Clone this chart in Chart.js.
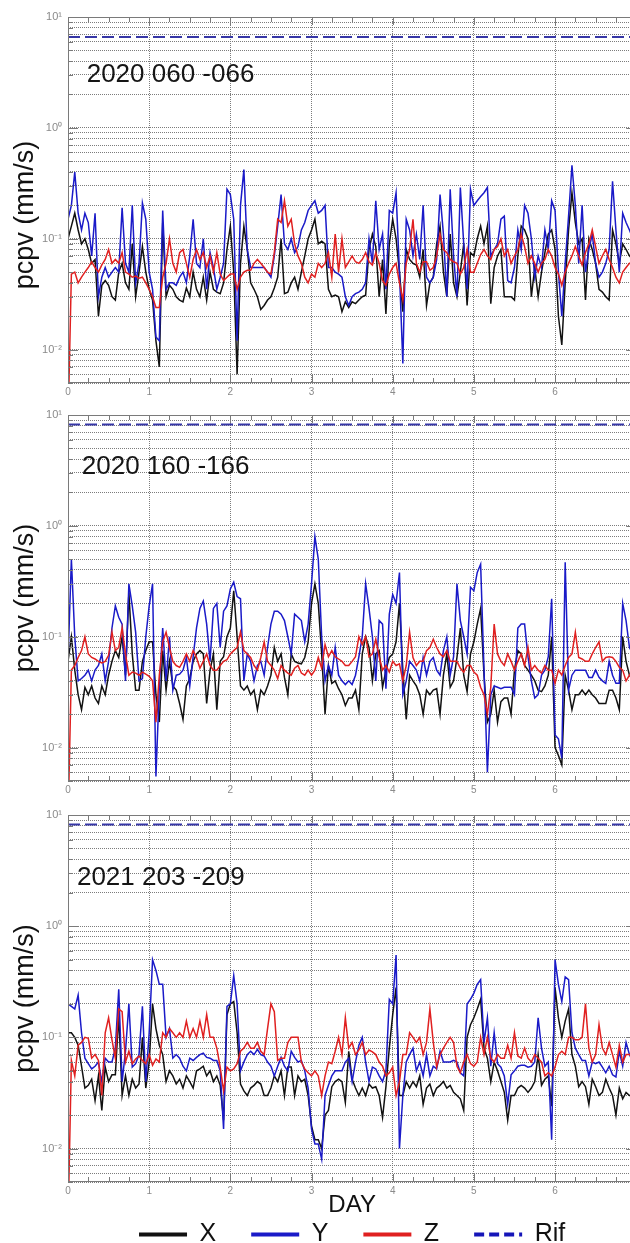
<!DOCTYPE html>
<html>
<head>
<meta charset="utf-8">
<title>pcpv</title>
<script src="https://cdn.jsdelivr.net/npm/chart.js@4.4.1/dist/chart.umd.min.js"></script>
<style>
  html, body { margin: 0; padding: 0; background: #fff; overflow: hidden; width: 630px; height: 1243px; }
  canvas { position: absolute; left: 0; }
</style>
</head>
<body>
<canvas id="c1" width="642" height="400" style="top:0px"></canvas>
<canvas id="c2" width="642" height="400" style="top:398px"></canvas>
<canvas id="c3" width="642" height="492" style="top:798px"></canvas>
<script>
// hourly samples, one row per day (mm/s)
const P1_X = [
  0.1,0.13,0.17,0.12,0.09,0.1,0.08,0.06,0.065,0.02,0.038,0.042,0.038,0.03,0.028,0.05,0.06,0.04,0.035,0.09,0.03,0.05,0.085,0.05,
  0.035,0.028,0.012,0.007,0.14,0.03,0.038,0.035,0.03,0.028,0.027,0.036,0.03,0.05,0.035,0.03,0.045,0.028,0.05,0.035,0.033,0.032,0.04,0.08,
  0.13,0.05,0.006,0.06,0.13,0.08,0.04,0.035,0.03,0.023,0.025,0.028,0.03,0.036,0.045,0.1,0.032,0.033,0.04,0.045,0.035,0.05,0.07,0.1,
  0.12,0.15,0.09,0.095,0.09,0.035,0.03,0.031,0.03,0.022,0.027,0.024,0.027,0.026,0.028,0.03,0.031,0.08,0.11,0.085,0.03,0.065,0.021,0.09,
  0.15,0.1,0.05,0.022,0.08,0.065,0.06,0.058,0.045,0.08,0.025,0.04,0.045,0.09,0.13,0.05,0.03,0.11,0.04,0.03,0.05,0.09,0.025,0.075,
  0.07,0.1,0.13,0.09,0.13,0.026,0.055,0.07,0.08,0.03,0.03,0.03,0.028,0.07,0.13,0.12,0.1,0.03,0.055,0.03,0.05,0.075,0.11,0.12,
  0.08,0.02,0.011,0.04,0.12,0.26,0.14,0.09,0.1,0.028,0.1,0.08,0.06,0.035,0.033,0.03,0.028,0.12,0.09,0.06,0.09,0.08,0.07,0.065,
  0.06
];
const P1_Y = [
  0.15,0.2,0.4,0.17,0.12,0.17,0.14,0.07,0.17,0.03,0.045,0.055,0.045,0.05,0.055,0.05,0.19,0.06,0.05,0.2,0.04,0.06,0.21,0.15,
  0.05,0.035,0.013,0.012,0.18,0.035,0.04,0.04,0.038,0.045,0.05,0.04,0.07,0.15,0.06,0.055,0.1,0.035,0.075,0.055,0.035,0.045,0.06,0.28,
  0.25,0.15,0.012,0.2,0.42,0.08,0.055,0.055,0.055,0.055,0.055,0.05,0.045,0.07,0.13,0.25,0.09,0.08,0.1,0.075,0.085,0.12,0.14,0.18,
  0.2,0.22,0.17,0.18,0.2,0.055,0.055,0.05,0.048,0.045,0.03,0.025,0.03,0.032,0.033,0.035,0.04,0.1,0.06,0.22,0.08,0.11,0.035,0.18,
  0.17,0.26,0.05,0.0075,0.15,0.12,0.07,0.11,0.065,0.2,0.045,0.04,0.045,0.065,0.25,0.11,0.03,0.28,0.07,0.03,0.29,0.09,0.035,0.28,
  0.2,0.22,0.24,0.26,0.29,0.07,0.08,0.09,0.15,0.16,0.042,0.04,0.055,0.12,0.08,0.2,0.17,0.1,0.045,0.07,0.055,0.12,0.08,0.22,
  0.18,0.05,0.02,0.06,0.16,0.46,0.2,0.06,0.2,0.05,0.08,0.11,0.06,0.045,0.05,0.06,0.08,0.33,0.12,0.05,0.17,0.14,0.12,0.1,
  0.09
];
const P1_Z = [
  0.002,0.048,0.05,0.04,0.045,0.05,0.055,0.062,0.055,0.05,0.058,0.065,0.08,0.06,0.065,0.06,0.075,0.05,0.048,0.045,0.046,0.044,0.045,0.04,
  0.035,0.03,0.024,0.024,0.045,0.06,0.1,0.06,0.05,0.075,0.08,0.06,0.045,0.065,0.08,0.065,0.075,0.055,0.07,0.05,0.075,0.048,0.042,0.045,
  0.048,0.048,0.035,0.045,0.05,0.052,0.052,0.06,0.065,0.06,0.055,0.05,0.048,0.075,0.15,0.14,0.22,0.13,0.15,0.09,0.07,0.06,0.045,0.04,
  0.048,0.045,0.06,0.055,0.06,0.075,0.045,0.11,0.05,0.1,0.055,0.062,0.07,0.062,0.06,0.065,0.075,0.062,0.058,0.075,0.06,0.042,0.038,0.048,
  0.055,0.06,0.04,0.028,0.06,0.08,0.15,0.06,0.05,0.062,0.062,0.052,0.055,0.07,0.11,0.08,0.075,0.065,0.062,0.06,0.048,0.055,0.08,0.05,
  0.05,0.06,0.072,0.08,0.07,0.065,0.08,0.085,0.1,0.07,0.08,0.06,0.07,0.08,0.11,0.085,0.06,0.07,0.06,0.05,0.06,0.065,0.08,0.07,
  0.055,0.048,0.038,0.05,0.06,0.07,0.085,0.07,0.058,0.075,0.09,0.12,0.085,0.06,0.07,0.08,0.065,0.055,0.045,0.04,0.05,0.055,0.06,0.06,
  0.06
];

const P2_X = [
  0.06,0.1,0.05,0.03,0.022,0.035,0.03,0.036,0.028,0.025,0.036,0.03,0.045,0.06,0.075,0.065,0.1,0.045,0.25,0.07,0.033,0.033,0.06,0.075,
  0.09,0.09,0.03,0.017,0.075,0.033,0.06,0.036,0.033,0.025,0.018,0.036,0.042,0.06,0.07,0.075,0.07,0.025,0.05,0.07,0.022,0.06,0.066,0.1,
  0.12,0.26,0.1,0.036,0.033,0.036,0.03,0.033,0.022,0.033,0.03,0.036,0.045,0.08,0.06,0.07,0.043,0.03,0.07,0.06,0.058,0.057,0.065,0.09,
  0.2,0.3,0.2,0.07,0.02,0.055,0.038,0.04,0.034,0.03,0.024,0.028,0.028,0.033,0.022,0.07,0.1,0.08,0.04,0.07,0.075,0.035,0.05,0.065,
  0.07,0.09,0.2,0.05,0.018,0.045,0.04,0.036,0.03,0.02,0.033,0.03,0.033,0.034,0.02,0.045,0.07,0.035,0.04,0.065,0.12,0.045,0.032,0.07,
  0.09,0.13,0.18,0.045,0.017,0.02,0.033,0.017,0.026,0.028,0.028,0.02,0.05,0.075,0.07,0.055,0.05,0.045,0.04,0.033,0.032,0.036,0.045,0.1,
  0.01,0.0085,0.007,0.045,0.033,0.022,0.03,0.03,0.033,0.03,0.033,0.03,0.028,0.025,0.025,0.025,0.033,0.033,0.028,0.022,0.1,0.06,0.045,0.04,
  0.04
];
const P2_Y = [
  0.06,0.5,0.1,0.04,0.042,0.045,0.05,0.04,0.05,0.055,0.07,0.04,0.06,0.12,0.19,0.15,0.13,0.04,0.3,0.19,0.11,0.04,0.042,0.1,
  0.19,0.3,0.0055,0.035,0.12,0.04,0.1,0.033,0.045,0.046,0.05,0.065,0.036,0.066,0.12,0.18,0.21,0.13,0.06,0.18,0.2,0.08,0.17,0.19,
  0.27,0.31,0.23,0.22,0.04,0.07,0.06,0.04,0.055,0.06,0.045,0.08,0.13,0.17,0.17,0.16,0.14,0.1,0.07,0.16,0.15,0.14,0.09,0.13,
  0.3,0.8,0.5,0.1,0.04,0.055,0.045,0.08,0.045,0.04,0.037,0.04,0.037,0.045,0.066,0.1,0.3,0.18,0.1,0.04,0.14,0.13,0.034,0.16,
  0.24,0.2,0.38,0.03,0.04,0.06,0.055,0.05,0.04,0.065,0.045,0.06,0.065,0.05,0.045,0.075,0.1,0.045,0.066,0.3,0.14,0.1,0.07,0.28,
  0.26,0.38,0.45,0.05,0.006,0.03,0.036,0.035,0.034,0.035,0.035,0.035,0.03,0.12,0.13,0.13,0.066,0.04,0.028,0.03,0.045,0.05,0.066,0.22,
  0.013,0.012,0.008,0.47,0.033,0.045,0.05,0.05,0.05,0.05,0.043,0.043,0.05,0.043,0.04,0.038,0.06,0.045,0.038,0.038,0.2,0.14,0.08,0.07,
  0.06
];
const P2_Z = [
  0.002,0.05,0.055,0.065,0.075,0.1,0.07,0.065,0.063,0.06,0.058,0.06,0.068,0.11,0.075,0.08,0.12,0.07,0.045,0.048,0.047,0.045,0.048,0.046,
  0.044,0.04,0.017,0.045,0.09,0.11,0.08,0.06,0.055,0.053,0.06,0.07,0.06,0.075,0.065,0.052,0.06,0.07,0.055,0.05,0.05,0.055,0.06,0.062,
  0.07,0.075,0.08,0.11,0.075,0.07,0.065,0.055,0.05,0.065,0.09,0.06,0.055,0.05,0.042,0.055,0.05,0.047,0.045,0.052,0.055,0.047,0.045,0.05,
  0.045,0.05,0.065,0.052,0.085,0.066,0.075,0.066,0.063,0.06,0.055,0.055,0.06,0.066,0.1,0.085,0.1,0.066,0.07,0.095,0.066,0.05,0.055,0.048,
  0.06,0.055,0.057,0.04,0.055,0.11,0.065,0.055,0.06,0.06,0.075,0.08,0.095,0.08,0.07,0.066,0.075,0.06,0.06,0.06,0.052,0.048,0.055,0.055,
  0.048,0.045,0.035,0.03,0.02,0.035,0.13,0.07,0.06,0.055,0.07,0.06,0.05,0.06,0.07,0.055,0.08,0.05,0.055,0.05,0.047,0.055,0.05,0.05,
  0.038,0.05,0.045,0.055,0.065,0.07,0.11,0.065,0.063,0.06,0.06,0.07,0.08,0.09,0.06,0.065,0.066,0.065,0.06,0.053,0.05,0.04,0.045,0.05,
  0.05
];

const P3_X = [
  0.11,0.11,0.1,0.085,0.055,0.035,0.037,0.042,0.027,0.045,0.022,0.054,0.04,0.046,0.046,0.16,0.03,0.045,0.03,0.042,0.035,0.038,0.1,0.035,
  0.06,0.2,0.12,0.085,0.07,0.04,0.05,0.045,0.038,0.042,0.035,0.045,0.04,0.035,0.05,0.052,0.055,0.045,0.05,0.04,0.045,0.037,0.018,0.16,
  0.2,0.21,0.11,0.038,0.033,0.03,0.035,0.037,0.04,0.038,0.03,0.03,0.035,0.045,0.04,0.05,0.03,0.054,0.054,0.03,0.045,0.04,0.042,0.03,
  0.016,0.012,0.012,0.01,0.02,0.022,0.036,0.04,0.042,0.04,0.026,0.075,0.042,0.035,0.03,0.035,0.03,0.038,0.035,0.036,0.03,0.019,0.036,0.08,
  0.16,0.28,0.03,0.03,0.04,0.035,0.04,0.036,0.045,0.025,0.035,0.038,0.03,0.035,0.037,0.04,0.035,0.037,0.032,0.03,0.028,0.022,0.1,0.13,
  0.15,0.18,0.22,0.08,0.065,0.04,0.06,0.05,0.04,0.032,0.018,0.03,0.03,0.035,0.037,0.035,0.032,0.035,0.04,0.07,0.037,0.042,0.045,0.024,
  0.28,0.15,0.1,0.14,0.18,0.07,0.055,0.036,0.04,0.036,0.025,0.042,0.036,0.03,0.032,0.042,0.035,0.03,0.02,0.035,0.028,0.032,0.03,0.03,
  0.03
];
const P3_Y = [
  0.2,0.19,0.18,0.24,0.11,0.065,0.058,0.052,0.055,0.06,0.04,0.065,0.06,0.06,0.08,0.27,0.04,0.075,0.2,0.054,0.058,0.07,0.19,0.04,
  0.11,0.5,0.4,0.3,0.3,0.1,0.12,0.065,0.07,0.065,0.055,0.05,0.065,0.062,0.066,0.07,0.072,0.066,0.065,0.062,0.062,0.05,0.015,0.19,
  0.2,0.36,0.2,0.05,0.06,0.07,0.075,0.07,0.078,0.07,0.068,0.06,0.055,0.045,0.055,0.066,0.055,0.05,0.075,0.066,0.06,0.062,0.05,0.035,
  0.015,0.011,0.011,0.008,0.03,0.037,0.045,0.05,0.05,0.05,0.06,0.065,0.04,0.06,0.085,0.1,0.06,0.04,0.054,0.052,0.045,0.04,0.05,0.22,
  0.2,0.55,0.01,0.03,0.06,0.07,0.08,0.05,0.06,0.045,0.07,0.045,0.055,0.052,0.075,0.06,0.06,0.06,0.062,0.06,0.048,0.045,0.2,0.22,
  0.25,0.3,0.33,0.09,0.15,0.055,0.11,0.058,0.054,0.045,0.025,0.046,0.05,0.055,0.056,0.056,0.054,0.055,0.06,0.15,0.08,0.055,0.06,0.012,
  0.5,0.3,0.21,0.35,0.33,0.11,0.08,0.07,0.062,0.062,0.045,0.06,0.058,0.06,0.054,0.048,0.055,0.046,0.044,0.075,0.055,0.09,0.07,0.06,
  0.06
];
const P3_Z = [
  0.002,0.062,0.045,0.085,0.09,0.1,0.098,0.065,0.07,0.062,0.03,0.11,0.15,0.095,0.065,0.18,0.17,0.06,0.075,0.058,0.064,0.068,0.062,0.058,
  0.07,0.056,0.064,0.06,0.11,0.1,0.12,0.11,0.1,0.11,0.1,0.14,0.1,0.12,0.1,0.14,0.1,0.16,0.1,0.1,0.08,0.054,0.033,0.054,
  0.05,0.052,0.058,0.075,0.08,0.09,0.08,0.08,0.09,0.075,0.07,0.12,0.2,0.17,0.062,0.065,0.065,0.09,0.1,0.1,0.1,0.06,0.052,0.048,
  0.045,0.05,0.045,0.03,0.045,0.06,0.058,0.075,0.1,0.07,0.15,0.08,0.09,0.07,0.077,0.09,0.07,0.077,0.074,0.07,0.06,0.055,0.045,0.048,
  0.054,0.03,0.04,0.07,0.07,0.11,0.1,0.09,0.1,0.07,0.09,0.18,0.09,0.054,0.07,0.08,0.09,0.1,0.09,0.055,0.048,0.06,0.07,0.058,
  0.055,0.06,0.1,0.07,0.1,0.065,0.06,0.07,0.065,0.065,0.085,0.065,0.11,0.068,0.065,0.08,0.065,0.06,0.07,0.065,0.06,0.045,0.048,0.045,
  0.054,0.07,0.075,0.07,0.1,0.1,0.095,0.095,0.1,0.2,0.08,0.06,0.07,0.13,0.08,0.07,0.09,0.07,0.054,0.085,0.06,0.07,0.07,0.065,
  0.065
];

// reference level per panel
const RIF = [6.6, 8.2, 8.2];
const PANEL_NAMES = ['2020 060 -066', '2020 160 -166', '2021 203 -209'];
// where the panel name sits: [day, mm/s]
const NAME_POS = [[0.23, 3.0], [0.17, 3.4], [0.11, 2.75]];

const SAMPLES_PER_DAY = 24;
const DAY_MAX = 7;
const Y_MIN = 0.005, Y_MAX = 10;
const Y_TICKS = [
  0.005,0.006,0.007,0.008,0.009,
  0.01,0.02,0.03,0.04,0.05,0.06,0.07,0.08,0.09,
  0.1,0.2,0.3,0.4,0.5,0.6,0.7,0.8,0.9,
  1,2,3,4,5,6,7,8,9,10
];
const DECADES = [0.01, 0.1, 1, 10];
const DECADE_TEXT = ['10\u207B\u00B2', '10\u207B\u00B9', '10\u2070', '10\u00B9'];

const FONT = '"Liberation Sans", Arial, Helvetica, sans-serif';
Chart.defaults.font.family = FONT;

function toPoints(vals) {
  return vals.map((v, i) => ({ x: i / SAMPLES_PER_DAY, y: v }));
}

// small inner ticks every quarter day / every log step, plus grey frame
const quarterTicks = [];
for (let d = 0; d <= DAY_MAX; d += 0.25) quarterTicks.push(d);

const framePlugin = {
  id: 'frame',
  afterDatasetsDraw(chart) {
    const { ctx, chartArea: a, scales: { x, y } } = chart;
    ctx.save();
    ctx.strokeStyle = '#7a7a7a';
    ctx.lineWidth = 1;
    ctx.strokeRect(a.left + 0.5, a.top + 0.5, a.right - a.left - 1, a.bottom - a.top - 1);
    ctx.beginPath();
    quarterTicks.forEach(d => {
      const px = Math.round(x.getPixelForValue(d)) + 0.5;
      const len = Number.isInteger(d) ? 8 : 5;
      ctx.moveTo(px, a.top); ctx.lineTo(px, a.top + len);
      ctx.moveTo(px, a.bottom); ctx.lineTo(px, a.bottom - len);
    });
    Y_TICKS.forEach(v => {
      const py = Math.round(y.getPixelForValue(v)) + 0.5;
      const len = DECADES.includes(v) ? 10 : 5;
      ctx.moveTo(a.left, py); ctx.lineTo(a.left + len, py);
      ctx.moveTo(a.right, py); ctx.lineTo(a.right - len, py);
    });
    ctx.stroke();
    ctx.restore();
  }
};

const nameplatePlugin = {
  id: 'nameplate',
  afterDatasetsDraw(chart, args, o) {
    if (!o || !o.text) return;
    const { ctx, scales: { x, y } } = chart;
    ctx.save();
    ctx.font = '26px ' + FONT;
    ctx.fillStyle = '#151515';
    ctx.textAlign = 'left';
    ctx.textBaseline = 'middle';
    ctx.fillText(o.text, x.getPixelForValue(o.day), y.getPixelForValue(o.value));
    ctx.restore();
  }
};

// legend sits tight under the DAY title
const legendLiftPlugin = {
  id: 'legendLift',
  afterLayout(chart, args, o) {
    const l = chart.legend;
    if (l && o && o.by) { l.top -= o.by; l.bottom -= o.by; }
  }
};

function makePanel(id, idx, xs, ys, zs, last) {
  const rif = RIF[idx];
  const common = { borderWidth: 1.5, pointRadius: 0, tension: 0 };
  return new Chart(document.getElementById(id), {
    type: 'line',
    data: {
      datasets: [
        Object.assign({ label: 'X', data: toPoints(xs), borderColor: '#111111', backgroundColor: '#111111', order: 2 }, common),
        Object.assign({ label: 'Y', data: toPoints(ys), borderColor: '#1a1ac8', backgroundColor: '#1a1ac8', order: 1 }, common),
        Object.assign({ label: 'Z', data: toPoints(zs), borderColor: '#e02020', backgroundColor: '#e02020', order: 0 }, common),
        { label: 'Rif', data: [{ x: 0, y: rif }, { x: DAY_MAX, y: rif }], borderColor: '#3636a6', backgroundColor: '#3636a6',
          borderDash: [12, 5], borderWidth: 2, pointRadius: 0, order: 3 }
      ]
    },
    plugins: [framePlugin, nameplatePlugin].concat(last ? [legendLiftPlugin] : []),
    options: {
      responsive: false,
      devicePixelRatio: 1,
      animation: false,
      events: [],
      layout: { padding: { top: 17, left: 0, right: 3, bottom: 0 } },
      plugins: {
        tooltip: { enabled: false },
        nameplate: { text: PANEL_NAMES[idx], day: NAME_POS[idx][0], value: NAME_POS[idx][1] },
        legendLift: { by: 33 },
        legend: last ? {
          display: true,
          position: 'bottom',
          fullSize: false,
          labels: {
            usePointStyle: true,
            pointStyle: 'line',
            pointStyleWidth: 48,
            padding: 35,
            color: '#111',
            font: { size: 25, family: FONT },
            sort: (a, b) => a.datasetIndex - b.datasetIndex,
            generateLabels(chart) {
              const items = Chart.defaults.plugins.legend.labels.generateLabels(chart);
              items.forEach(it => {
                const ds = chart.data.datasets[it.datasetIndex];
                it.lineWidth = 4;
                it.strokeStyle = ds.label === 'Rif' ? '#1515b8' : ds.borderColor;
                it.lineDash = ds.label === 'Rif' ? [10, 5] : [];
              });
              return items;
            }
          }
        } : { display: false }
      },
      scales: {
        x: {
          type: 'linear',
          min: 0,
          max: DAY_MAX,
          afterFit(s) { s.height = last ? 38 : 17; },
          ticks: { stepSize: 1, color: '#8a8a8a', font: { size: 10 }, padding: 3, maxRotation: 0, autoSkip: false },
          grid: { color: '#7c7c7c', lineWidth: 1, drawTicks: false },
          border: { display: false, dash: [1, 1] },
          title: last ? { display: true, text: 'DAY', color: '#111', font: { size: 24 }, padding: { top: 0, bottom: 0 } } : { display: false }
        },
        y: {
          type: 'logarithmic',
          min: Y_MIN,
          max: Y_MAX,
          afterFit(s) { s.width = 68; },
          afterBuildTicks(s) { s.ticks = Y_TICKS.map(v => ({ value: v })); },
          ticks: {
            autoSkip: false,
            color: '#8a8a8a',
            font: { size: 11 },
            padding: 6,
            callback(v) {
              const k = DECADES.indexOf(v);
              return k >= 0 ? DECADE_TEXT[k] : '';
            }
          },
          grid: { color: '#7c7c7c', lineWidth: 1, drawTicks: false },
          border: { display: false, dash: [1, 1] },
          title: {
            display: true,
            // first panel's label sits a bit lower in the original
            text: idx === 0 ? 'pcpv (mm/s)    ' : 'pcpv (mm/s)',
            color: '#111',
            font: { size: 27 },
            padding: { top: 9, bottom: 0 }
          }
        }
      }
    }
  });
}

makePanel('c1', 0, P1_X, P1_Y, P1_Z, false);
makePanel('c2', 1, P2_X, P2_Y, P2_Z, false);
makePanel('c3', 2, P3_X, P3_Y, P3_Z, true);
</script>
</body>
</html>
